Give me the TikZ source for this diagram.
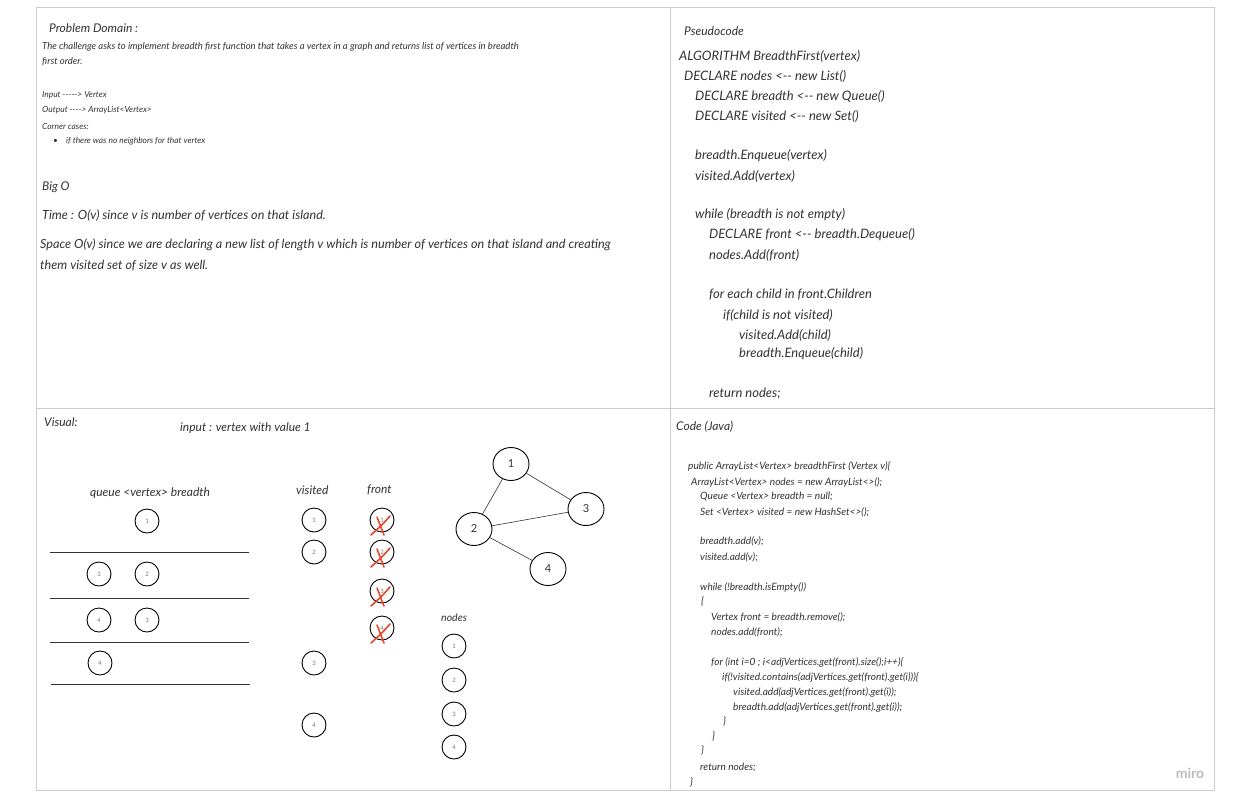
\documentclass[tikz,border=0pt]{standalone}
\usepackage{fontspec}
\setmainfont{Lato}[Ligatures=TeXOff]
\usetikzlibrary{shapes.geometric, positioning, calc}
\definecolor{framegray}{HTML}{CCCCCC}
\definecolor{inkgray}{HTML}{333333}
\definecolor{labelgray}{HTML}{777777}
\definecolor{strikered}{HTML}{E5492D}
\definecolor{logogray}{HTML}{BBBBBB}
\tikzstyle{panel} = [draw=framegray, line width=0.8pt]
\tikzstyle{txt} = [anchor=west, inner sep=0pt, text=inkgray]
\tikzstyle{heading} = [txt, font=\itshape\fontsize{12}{14}\selectfont]
\tikzstyle{tiny} = [txt, font=\itshape\fontsize{8.4}{9}\selectfont]
\tikzstyle{intro} = [txt, font=\itshape\fontsize{9.5}{11}\selectfont]
\tikzstyle{body} = [txt, font=\itshape\fontsize{12.6}{14}\selectfont]
\tikzstyle{label} = [txt, font=\itshape\fontsize{12}{14}\selectfont]
\tikzstyle{pseudo} = [txt, font=\itshape\fontsize{13}{15}\selectfont]
\tikzstyle{code} = [txt, font=\itshape\fontsize{10.1}{11}\selectfont]
\tikzstyle{token} = [circle, draw=black, line width=0.9pt, minimum size=24pt,
    inner sep=0pt, font=\fontsize{6}{7}\selectfont, text=labelgray]
\tikzstyle{vertex} = [ellipse, draw=black, line width=0.9pt, minimum width=36pt,
    minimum height=33pt, inner sep=0pt, font=\fontsize{11}{13}\selectfont, text=inkgray]
\tikzstyle{edge} = [draw=inkgray, line width=0.6pt]
\tikzstyle{shelf} = [draw=inkgray, line width=0.9pt]
\tikzset{crossmark/.pic={
    \draw[strikered, line width=1.6pt, line cap=round] (8,-4) .. controls (0,5) .. (-11,15);
    \draw[strikered, line width=1.6pt, line cap=round] (-5,-3) .. controls (-1,6) .. (2,15);
}}

\begin{document}
\begin{tikzpicture}[x=1pt, y=-1pt]
\useasboundingbox (0,0) rectangle (1237,807);
\fill[white] (0,0) rectangle (1237,807);

% board panels
\draw[panel] (36,7) rectangle (1214,790);
\draw[panel] (670,7) -- (670,790);
\draw[panel] (36,408) -- (1214,408);

% problem domain
\node[heading] (pd) at (49,28) {Problem Domain :};
\node[intro] (pd1) at (42,47) {The challenge asks to implement breadth first function that takes a vertex in a graph and returns list of vertices in breadth};
\node[intro] (pd2) at (42,62) {first order.};
\node[tiny] (in) at (42,95) {Input -----> Vertex};
\node[tiny] (out) at (42,110) {Output ----> ArrayList<Vertex>};
\node[tiny] (cc) at (42,126) {Corner cases:};
\node[tiny] (bul) at (53,141) {\textbullet};
\node[tiny] (cc1) at (66,141) {if there was no neighbors for that vertex};

% big o
\node[heading] (bigo) at (42,187) {Big O};
\node[body] (time) at (42,216) {Time : O(v) since v is number of vertices on that island.};
\node[body] (space1) at (40,245) {Space O(v) since we are declaring a new list of length v which is number of vertices on that island and creating};
\node[body] (space2) at (40,266) {them visited set of size v as well.};

% pseudocode
\node[heading] (ps) at (684,31) {Pseudocode};
\node[pseudo] (p1) at (679,56) {ALGORITHM BreadthFirst(vertex)};
\node[pseudo] (p2) at (684,76) {DECLARE nodes <-- new List()};
\node[pseudo] (p3) at (695,96) {DECLARE breadth <-- new Queue()};
\node[pseudo] (p4) at (695,116) {DECLARE visited <-- new Set()};
\node[pseudo] (p5) at (695,156) {breadth.Enqueue(vertex)};
\node[pseudo] (p6) at (695,176) {visited.Add(vertex)};
\node[pseudo] (p7) at (695,215) {while (breadth is not empty)};
\node[pseudo] (p8) at (709,235) {DECLARE front <-- breadth.Dequeue()};
\node[pseudo] (p9) at (709,255) {nodes.Add(front)};
\node[pseudo] (p10) at (709,295) {for each child in front.Children};
\node[pseudo] (p11) at (723,315) {if(child is not visited)};
\node[pseudo] (p12) at (739,335) {visited.Add(child)};
\node[pseudo] (p13) at (739,354) {breadth.Enqueue(child)};
\node[pseudo] (p14) at (709,394) {return nodes;};

% visual
\node[label] (vis) at (44,422) {Visual:};
\node[label] (inp) at (180,428) {input : vertex with value 1};
\node[label] (qlabel) at (90,493) {queue <vertex> breadth};
\node[label] (vlabel) at (296,490) {visited};
\node[label] (flabel) at (367,490) {front};
\node[txt, font=\itshape\fontsize{10.5}{12}\selectfont] (nlabel) at (441,618) {nodes};

% queue states
\node[token] (q1) at (147,521) {1};
\draw[shelf] (50,552) -- (249,552);
\node[token] (q3) at (99,574) {3};
\node[token] (q2) at (147,574) {2};
\draw[shelf] (50,598) -- (249,598);
\node[token] (q4) at (99,620) {4};
\node[token] (q3b) at (147,620) {3};
\draw[shelf] (50,642) -- (249,642);
\node[token] (q4b) at (100,663) {4};
\draw[shelf] (51,684) -- (250,684);

% visited set
\node[token] (v1) at (314,520) {1};
\node[token] (v2) at (314,552) {2};
\node[token] (v3) at (314,663) {3};
\node[token] (v4) at (314,725) {4};

% front, crossed out
\foreach \n/\y in {1/520, 2/552, 3/591, 4/628} {
    \node[token] (f\n) at (382,\y) {\n};
    \pic at (f\n) {crossmark};
}

% nodes list
\node[token] (n1) at (454,646) {1};
\node[token] (n2) at (454,680) {2};
\node[token] (n3) at (454,714) {3};
\node[token] (n4) at (454,747) {4};

% graph
\node[vertex] (g1) at (511,464) {1};
\node[vertex] (g3) at (586,509) {3};
\node[vertex] (g2) at (474,529) {2};
\node[vertex] (g4) at (548,569) {4};
\draw[edge] (g1) -- (g2);
\draw[edge] (g1) -- (g3);
\draw[edge] (g2) -- (g3);
\draw[edge] (g2) -- (g4);

% java code
\node[heading] (cj) at (676,427) {Code (Java)};
\node[code] (c1) at (688,466) {public ArrayList<Vertex> breadthFirst (Vertex v)\{};
\node[code] (c2) at (691,482) {ArrayList<Vertex> nodes = new ArrayList<>();};
\node[code] (c3) at (700,497) {Queue <Vertex> breadth = null;};
\node[code] (c4) at (700,512) {Set <Vertex> visited = new HashSet<>();};
\node[code] (c5) at (700,541) {breadth.add(v);};
\node[code] (c6) at (700,557) {visited.add(v);};
\node[code] (c7) at (700,587) {while (!breadth.isEmpty())};
\node[code] (c8) at (701,601) {\{};
\node[code] (c9) at (711,617) {Vertex front = breadth.remove();};
\node[code] (c10) at (711,632) {nodes.add(front);};
\node[code] (c11) at (711,662) {for (int i=0 ; i<adjVertices.get(front).size();i++)\{};
\node[code] (c12) at (722,677) {if(!visited.contains(adjVertices.get(front).get(i)))\{};
\node[code] (c13) at (733,692) {visited.add(adjVertices.get(front).get(i));};
\node[code] (c14) at (733,707) {breadth.add(adjVertices.get(front).get(i));};
\node[code] (c15) at (723,721) {\}};
\node[code] (c16) at (712,736) {\}};
\node[code] (c17) at (701,750) {\}};
\node[code] (c18) at (700,767) {return nodes;};
\node[code] (c19) at (690,782) {\}};

% logo
\node[anchor=center, inner sep=0pt, text=logogray, font=\bfseries\fontsize{14}{16}\selectfont] (logo) at (1190,773) {miro};
\end{tikzpicture}
\end{document}
